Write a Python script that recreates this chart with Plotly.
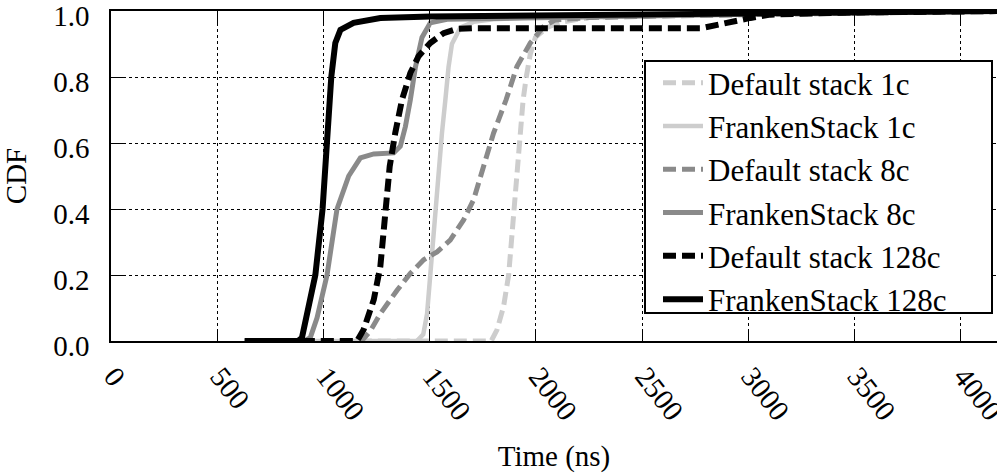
import plotly.graph_objects as go

# ---------------- data ----------------
names = ["Default stack 1c", "FrankenStack 1c", "Default stack 8c",
         "FrankenStack 8c", "Default stack 128c", "FrankenStack 128c"]

def1_x = [630, 1790, 1817, 1848, 1872, 1888, 1903, 1911, 1927, 1940, 1955, 1974, 1998, 2053, 2115, 2250, 2600, 3200, 4200]
def1_y = [0.0, 0.0, 0.034, 0.104, 0.2, 0.33, 0.43, 0.53, 0.63, 0.73, 0.80, 0.87, 0.92, 0.95, 0.966, 0.98, 0.99, 0.995, 1.0]

frk1_x = [630, 1440, 1470, 1488, 1503, 1519, 1530, 1543, 1558, 1574, 1589, 1605, 1645, 1707, 1800, 2100, 2600, 3200, 4200]
frk1_y = [0.0, 0.0, 0.02, 0.083, 0.2, 0.33, 0.43, 0.53, 0.63, 0.73, 0.83, 0.90, 0.95, 0.967, 0.975, 0.985, 0.99, 0.995, 1.0]

def8_x = [630, 1180, 1220, 1268, 1346, 1409, 1472, 1535, 1597, 1660, 1707, 1754, 1801, 1860, 1911, 1974, 2037, 2092, 2250, 2600, 3200, 4200]
def8_y = [0.0, 0.0, 0.03, 0.083, 0.153, 0.205, 0.246, 0.27, 0.306, 0.367, 0.428, 0.53, 0.63, 0.731, 0.832, 0.903, 0.953, 0.973, 0.98, 0.985, 0.992, 1.0]

frk8_x = [630, 910, 938, 970, 1017, 1064, 1119, 1174, 1237, 1331, 1362, 1386, 1409, 1433, 1464, 1503, 1582, 2000, 3000, 4200]
frk8_y = [0.0, 0.0, 0.01, 0.07, 0.2, 0.4, 0.5, 0.555, 0.567, 0.57, 0.59, 0.65, 0.73, 0.83, 0.92, 0.964, 0.975, 0.98, 0.99, 1.0]

def128_x = [630, 1158, 1189, 1237, 1268, 1283, 1299, 1312, 1338, 1370, 1409, 1448, 1503, 1566, 1629, 1700, 2780, 2852, 2916, 3010, 3104, 3434, 4200]
def128_y = [0.0, 0.0, 0.034, 0.125, 0.226, 0.327, 0.428, 0.529, 0.63, 0.731, 0.812, 0.863, 0.903, 0.933, 0.946, 0.948, 0.948, 0.959, 0.968, 0.979, 0.989, 0.995, 1.0]

frk128_x = [630, 880, 899, 930, 962, 996, 1017, 1037, 1056, 1080, 1142, 1268, 1503, 2500, 3000, 4200]
frk128_y = [0.0, 0.0, 0.01, 0.1, 0.2, 0.4, 0.6, 0.8, 0.903, 0.943, 0.964, 0.979, 0.983, 0.99, 0.995, 1.0]

xs = [def1_x, frk1_x, def8_x, frk8_x, def128_x, frk128_x]
ys = [def1_y, frk1_y, def8_y, frk8_y, def128_y, frk128_y]

x_ticks = [0, 500, 1000, 1500, 2000, 2500, 3000, 3500, 4000]
y_ticks = [0.0, 0.2, 0.4, 0.6, 0.8, 1.0]

# ---------------- styles ----------------
colors = ["#cdcdcd", "#cdcdcd", "#8a8a8a", "#8a8a8a", "#000000", "#000000"]
dashes = ["13px,6px", "solid", "13px,6px", "solid", "13px,6px", "solid"]
widths = [5, 4.5, 5, 5, 6, 6]

FONT = "Liberation Serif"
L, T, W, H = 111, 11, 886, 330

def px2paper_x(px):
    return (px - L) / W

def px2paper_y(py):
    return (T + H - py) / H

fig = go.Figure()
for n, x, y, c, d, w in zip(names, xs, ys, colors, dashes, widths):
    fig.add_trace(go.Scatter(x=x, y=y, name=n, mode="lines",
                             line=dict(color=c, dash=d, width=w),
                             cliponaxis=False))

# legend frame
fig.add_shape(type="rect", xref="paper", yref="paper", layer="above",
              x0=px2paper_x(645), x1=px2paper_x(992),
              y0=px2paper_y(313), y1=px2paper_y(61),
              line=dict(color="black", width=2), fillcolor="white")

fig.update_layout(
    width=997, height=473,
    margin=dict(l=L, r=997 - L - W, t=T, b=473 - T - H, autoexpand=False),
    paper_bgcolor="white", plot_bgcolor="white",
    font=dict(family=FONT, size=29, color="black"),
    showlegend=True,
    legend=dict(x=px2paper_x(645 + 13), y=px2paper_y(61) + 5 / H,
                xanchor="left", yanchor="top",
                bgcolor="rgba(0,0,0,0)", borderwidth=0,
                font=dict(family=FONT, size=31, color="black"),
                tracegroupgap=0, itemwidth=40),
)

fig.update_xaxes(
    range=[0, 4171], tickvals=x_ticks, ticktext=[str(v) for v in x_ticks],
    tickangle=52, ticks="inside", ticklen=12, tickwidth=1, tickcolor="black",
    showline=True, linecolor="black", linewidth=1.5, mirror="ticks",
    showgrid=True, gridcolor="black", griddash="dot", gridwidth=1,
    zeroline=False, ticklabelstandoff=5, ticklabelshift=3, ticklabeloverflow="allow",
    automargin=False,
    title=dict(text="Time (ns)", font=dict(family=FONT, size=29), standoff=24),
    tickfont=dict(family=FONT, size=29),
)
fig.update_yaxes(
    range=[0, 1], tickvals=y_ticks, ticktext=[f"{v:.1f}" for v in y_ticks],
    ticks="inside", ticklen=12, tickwidth=1, tickcolor="black",
    showline=True, linecolor="black", linewidth=1.5, mirror=False,
    showgrid=True, gridcolor="black", griddash="dot", gridwidth=1,
    zeroline=False, ticklabelstandoff=14, ticklabelshift=5, ticklabeloverflow="allow",
    automargin=False,
    title=dict(text="CDF", font=dict(family=FONT, size=29), standoff=18),
    tickfont=dict(family=FONT, size=29),
)

fig.write_html("out.html")
